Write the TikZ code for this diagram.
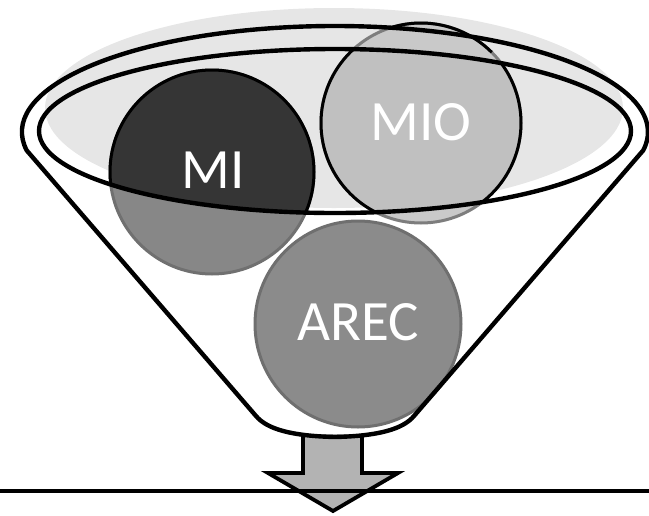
\documentclass[tikz,border=0pt]{standalone}
\usepackage{fontspec}
\setmainfont{Carlito}
\definecolor{glowgray}{HTML}{E6E6E6}
\definecolor{milow}{HTML}{878787}
\definecolor{miedge}{HTML}{707070}
\definecolor{mihigh}{HTML}{353535}
\definecolor{miolow}{HTML}{C9C9C9}
\definecolor{mioedge}{HTML}{7D7D7D}
\definecolor{miohigh}{HTML}{C0C0C0}
\definecolor{arecfill}{HTML}{8B8B8B}
\definecolor{arecedge}{HTML}{6F6F6F}
\definecolor{arrowgray}{HTML}{B3B3B3}
\begin{document}
\begin{tikzpicture}[x=1pt,y=-1pt,
  rimline/.style={line width=4.4pt, draw=black, line join=round},
  ballline/.style={line width=3pt},
  balltext/.style={text=white, inner sep=0pt, anchor=center,
                   font=\fontsize{57}{60}\selectfont}]
\useasboundingbox (0,0) rectangle (649,515);

% centres of the three balls
\coordinate (cMI) at (212,172);
\coordinate (cMIO) at (421,123);
\coordinate (cAREC) at (358,324);

% soft glow behind the funnel mouth
\fill[glowgray] (334,108) ellipse [x radius=289, y radius=100];

% balls, as seen below the rim
\filldraw[fill=arecfill, draw=arecedge, ballline] (cAREC) circle [radius=103];
\filldraw[fill=milow, draw=miedge, ballline] (cMI) circle [radius=102];
\filldraw[fill=miolow, draw=mioedge, ballline] (cMIO) circle [radius=100];

% balls, as seen inside the rim
\begin{scope}
  \clip (335,131) ellipse [x radius=296, y radius=82];
  \filldraw[fill=mihigh, draw=black, ballline] (cMI) circle [radius=102];
  \filldraw[fill=miohigh, draw=black, ballline] (cMIO) circle [radius=100];
\end{scope}
\draw[black, ballline] ([shift={(-107:100)}]cMIO)
  arc [start angle=-107, end angle=-45, radius=100];

% labels
\node[balltext] (tMI) at (213,170) {MI};
\node[balltext] (tMIO) at (421,122) {MIO};
\node[balltext] (tAREC) at (358,322) {AREC};

% outlet arrow
\filldraw[fill=arrowgray, draw=black, line width=3.8pt, line join=miter]
  (303,434) -- (303,473) -- (268,473) -- (333,511) -- (398,473)
  -- (362,473) -- (362,434);

% inner rim
\draw[rimline] (335,131) ellipse [x radius=296, y radius=82];

% funnel body: outer rim and cone
\draw[rimline] (26.7,150.4)
  arc [start angle=170, end angle=370, x radius=313, y radius=106]
  -- (414,416) .. controls (403,429) and (379,436) .. (335,437)
  .. controls (291,436) and (267,429) .. (256,416) -- cycle;

% ground line
\coordinate (gL) at (0,491);
\coordinate (gR) at (649,491);
\draw[line width=4.2pt] (gL) -- (gR);
\end{tikzpicture}
\end{document}
